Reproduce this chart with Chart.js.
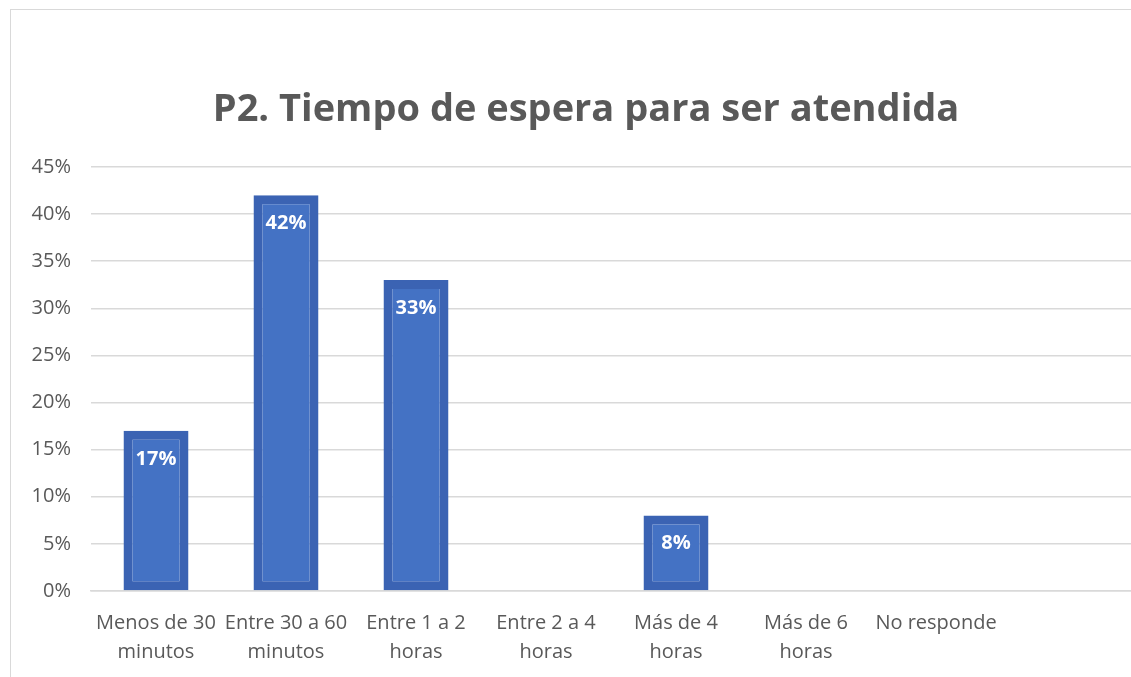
<!DOCTYPE html>
<html>
<head>
<meta charset="utf-8">
<script src="https://cdn.jsdelivr.net/npm/chart.js@4.4.1/dist/chart.umd.min.js"></script>
<style>
  html, body { margin: 0; padding: 0; background: #fff; overflow: hidden; }
  #frame {
    position: absolute; left: 10px; top: 9px;
    width: 1200px; height: 700px;
    border-left: 1px solid #d9d9d9; border-top: 1px solid #d9d9d9;
  }
  #chart { position: absolute; left: 0; top: 0; }
</style>
</head>
<body>
<div id="frame">
  <canvas id="chart" width="1120" height="668"></canvas>
</div>
<script>
// Tiempo de espera - P2
const chartTitle = 'P2. Tiempo de espera para ser atendida';
const categories = [
  ['Menos de 30', 'minutos'],
  ['Entre 30 a 60', 'minutos'],
  ['Entre 1 a 2', 'horas'],
  ['Entre 2 a 4', 'horas'],
  ['Más de 4', 'horas'],
  ['Más de 6', 'horas'],
  'No responde',
  ''
];
const percentages = [17, 42, 33, 0, 8, 0, 0, null];
const yTicks = [0, 5, 10, 15, 20, 25, 30, 35, 40, 45];

const textGray = '#595959';

// title drawn by hand so it can sit a bit right of the plot centre, like the original
const titlePlugin = {
  id: 'titlePlugin',
  afterDraw(chart) {
    const ctx = chart.ctx;
    ctx.save();
    ctx.fillStyle = textGray;
    ctx.font = 'bold 38px "Open Sans"';
    ctx.textAlign = 'center';
    ctx.textBaseline = 'middle';
    ctx.fillText(chartTitle, 575, 100);
    ctx.restore();
  }
};

// white labels inside the top of each bar
const barLabels = {
  id: 'barLabels',
  afterDatasetsDraw(chart) {
    const ctx = chart.ctx;
    const meta = chart.getDatasetMeta(0);
    ctx.save();
    ctx.fillStyle = '#ffffff';
    ctx.font = 'bold 20px "Open Sans"';
    ctx.textAlign = 'center';
    ctx.textBaseline = 'middle';
    meta.data.forEach((bar, i) => {
      const v = percentages[i];
      if (!v) return;
      ctx.fillText(v + '%', bar.x, bar.y + 28);
    });
    ctx.restore();
  }
};

new Chart(document.getElementById('chart').getContext('2d'), {
  type: 'bar',
  data: {
    labels: categories,
    datasets: [{
      data: percentages,
      backgroundColor: '#4472c4',
      borderColor: '#3b63b3',
      borderWidth: 9,
      borderSkipped: false,
      categoryPercentage: 0.5,
      barPercentage: 1
    }]
  },
  options: {
    responsive: false,
    animation: false,
    layout: { padding: { right: 0, bottom: 0, top: 157, left: 0 } },
    plugins: {
      legend: { display: false },
      tooltip: { enabled: false },
      title: { display: false }
    },
    scales: {
      y: {
        min: 0,
        max: 45,
        afterBuildTicks(scale) { scale.ticks = yTicks.map(v => ({ value: v })); },
        afterFit(scale) { scale.width = 80; },
        border: { display: false },
        grid: { color: '#d9d9d9', lineWidth: 1.5, drawTicks: false },
        ticks: {
          color: textGray,
          padding: 20,
          font: { family: 'Open Sans', size: 20 },
          callback: v => v + '%'
        }
      },
      x: {
        afterFit(scale) { scale.height = 87; },
        border: { color: '#d9d9d9', width: 1.5 },
        grid: { display: false, drawTicks: false },
        ticks: {
          color: textGray,
          padding: 18,
          maxRotation: 0,
          autoSkip: false,
          font: { family: 'Open Sans', size: 20, lineHeight: 1.45 }
        }
      }
    }
  },
  plugins: [barLabels, titlePlugin]
});
</script>
</body>
</html>
